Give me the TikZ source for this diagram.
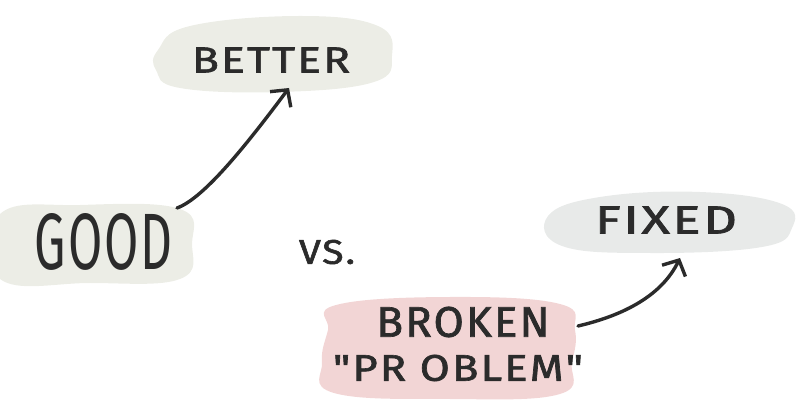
\documentclass[tikz,border=0pt]{standalone}
\usepackage{fontspec}
\usepackage{graphicx}
\newfontfamily\hand[LetterSpace=5,FakeBold=1.6]{Fira Sans}
\newfontfamily\handn[LetterSpace=4]{Fira Sans}
\usetikzlibrary{arrows.meta}
\definecolor{ink}{HTML}{2B2B2B}
\definecolor{blobgreen}{HTML}{ECEDE6}
\definecolor{blobgrey}{HTML}{E8EAE9}
\definecolor{blobpink}{HTML}{F2D5D5}
\tikzset{
  word/.style={inner sep=0pt, text=ink},
  conn/.style={draw=ink, line width=3.4pt, line cap=round,
    -{Straight Barb[length=12pt,width=26pt,line width=3.4pt]}},
}
\begin{document}
\begin{tikzpicture}[x=1pt,y=-1pt]
\useasboundingbox (0,0) rectangle (800,411);
% blobs
\fill[blobgreen] plot[smooth cycle, tension=0.7] coordinates {(158,50) (190,26) (300,16) (378,26) (392,56) (374,82) (280,92) (180,88) (156,70)};
\fill[blobgreen] plot[smooth cycle, tension=0.7] coordinates {(0,214) (80,205) (180,209) (192,244) (180,279) (90,283) (0,279)};
\fill[blobgrey] plot[smooth cycle, tension=0.7] coordinates {(548,216) (600,197) (700,192) (782,204) (792,228) (762,247) (650,253) (562,246)};
\fill[blobpink] plot[smooth cycle, tension=0.7] coordinates {(336,305) (450,297) (560,304) (575,330) (572,362) (560,394) (450,399) (334,393) (322,362) (328,330)};
% texts
\node[word] (better) at (271,60) {\resizebox{158pt}{25pt}{\hand BETTER}};
\node[word] (good) at (104,242) {\resizebox{138pt}{56pt}{\handn GOOD}};
\node[word] (vs) at (327,252) {\resizebox{56pt}{24pt}{\hand VS.}};
\node[word] (fixed) at (666,220) {\resizebox{142pt}{27pt}{\hand FIXED}};
\node[word] (broken) at (463,322) {\resizebox{173pt}{30pt}{\hand BROKEN}};
\node[word] (problem) at (458,368) {\resizebox{250pt}{26pt}{\hand "PR OBLEM"}};
% arrows
\coordinate (a1s) at (177,208);
\coordinate (a1e) at (289,88);
\coordinate (a2s) at (578,326);
\coordinate (a2e) at (680,258);
\draw[conn] (a1s) .. controls (205,198) and (250,140) .. (a1e);
\draw[conn] (a2s) .. controls (625,315) and (662,295) .. (a2e);
\end{tikzpicture}
\end{document}
